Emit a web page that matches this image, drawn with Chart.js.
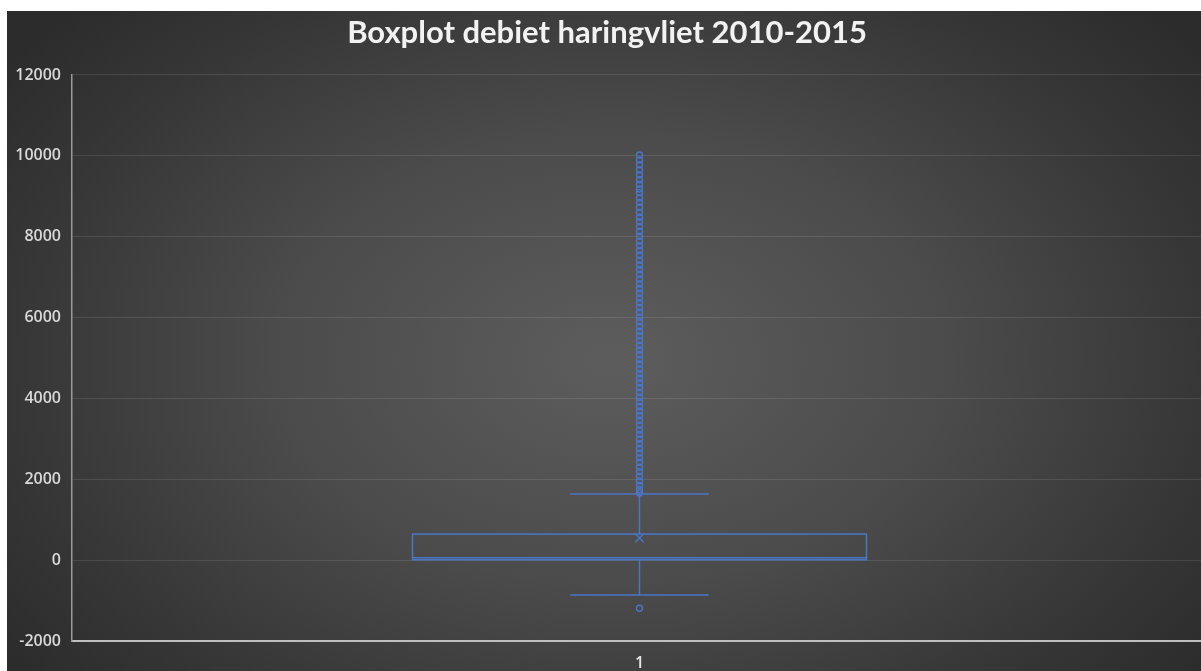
<!DOCTYPE html>
<html>
<head>
<meta charset="utf-8">
<script src="https://cdn.jsdelivr.net/npm/chart.js@4"></script>
<style>
  html, body { margin: 0; padding: 0; background: #fff; overflow: hidden; }
  #wrap {
    position: absolute; left: 7px; top: 11px; width: 1210px; height: 670px;
    background: radial-gradient(ellipse 62% 75% at 50% 52%, #5d5d5d 0%, #4b4b4b 45%, #363636 80%, #2c2c2c 100%);
  }
</style>
</head>
<body>
<div id="wrap"><canvas id="boxChart" width="1210" height="670"></canvas></div>
<script>
// Boxplot debiet haringvliet 2010-2015
const categories = ['1'];
const q1 = 10;
const median = 60;
const q3 = 645;
const mean = 547;
const whiskerLow = -863;
const whiskerHigh = 1635;
const outliers = [
    10020, 9900, 9780, 9650, 9530, 9410, 9300, 9180, 9090,
    8960, 8850, 8730, 8600, 8480, 8370, 8250, 8130, 8010, 7890, 7780, 7660, 7540, 7420, 7300,
    7190, 7070, 6950, 6830, 6720, 6600, 6480, 6370, 6250, 6130, 6010, 5900, 5780, 5660, 5550,
    5430, 5310, 5200, 5080, 4960, 4850, 4730, 4610, 4500, 4380, 4270, 4150, 4030, 3920, 3800,
    3690, 3570, 3460, 3340, 3220, 3110, 2990, 2880, 2760, 2650, 2530, 2420, 2300, 2190, 2070,
    1960, 1850, 1740, 1660,
    -1190
];
const yTicks = [-2000, 0, 2000, 4000, 6000, 8000, 10000, 12000];

const BLUE = '#4a76c6';

// box, median and whiskers drawn from the stats through the chart scales
const boxPlugin = {
    id: 'boxWhisker',
    beforeDatasetsDraw(chart) {
        const { ctx, scales: { x, y } } = chart;
        const cx = x.getPixelForValue(0);
        const catW = x.width;
        const halfBox = catW * 0.2;
        const halfCap = catW * 0.061;
        ctx.save();
        ctx.strokeStyle = BLUE;
        ctx.lineWidth = 1.5;
        // whiskers
        ctx.beginPath();
        ctx.moveTo(cx, y.getPixelForValue(q3));
        ctx.lineTo(cx, y.getPixelForValue(whiskerHigh));
        ctx.moveTo(cx - halfCap, y.getPixelForValue(whiskerHigh));
        ctx.lineTo(cx + halfCap, y.getPixelForValue(whiskerHigh));
        ctx.moveTo(cx, y.getPixelForValue(q1));
        ctx.lineTo(cx, y.getPixelForValue(whiskerLow));
        ctx.moveTo(cx - halfCap, y.getPixelForValue(whiskerLow));
        ctx.lineTo(cx + halfCap, y.getPixelForValue(whiskerLow));
        ctx.stroke();
        // box
        const top = y.getPixelForValue(q3);
        const bottom = y.getPixelForValue(q1);
        ctx.strokeRect(cx - halfBox, top, halfBox * 2, bottom - top);
        // median
        ctx.beginPath();
        ctx.moveTo(cx - halfBox, y.getPixelForValue(median));
        ctx.lineTo(cx + halfBox, y.getPixelForValue(median));
        ctx.stroke();
        ctx.restore();
    }
};

const ctx = document.getElementById('boxChart');
new Chart(ctx, {
    type: 'line',
    data: {
        labels: categories,
        datasets: [
            {
                label: 'Uitschieters',
                data: outliers.map(v => ({ x: categories[0], y: v })),
                showLine: false,
                pointStyle: 'circle',
                pointRadius: 3,
                pointBorderWidth: 1.4,
                pointBorderColor: BLUE,
                pointBackgroundColor: 'rgba(0,0,0,0)',
            },
            {
                label: 'Gemiddelde',
                data: [{ x: categories[0], y: mean }],
                showLine: false,
                pointStyle: 'crossRot',
                pointRadius: 6,
                pointBorderWidth: 1.5,
                pointBorderColor: BLUE,
            }
        ]
    },
    options: {
        responsive: false,
        animation: false,
        layout: { padding: { left: 0, right: 10, top: 0, bottom: 0 } },
        scales: {
            x: {
                offset: true,
                grid: { display: false, drawTicks: false },
                border: { color: '#bfbfbf', width: 2 },
                ticks: { color: '#e6e6e6', padding: 13, font: { family: 'Open Sans', size: 16, weight: '600' } },
                afterFit: s => { s.height = 40; }
            },
            y: {
                min: -2000,
                max: 12000,
                afterBuildTicks: s => { s.ticks = yTicks.map(v => ({ value: v })); },
                grid: { color: 'rgba(255,255,255,0.1)', lineWidth: 1, drawTicks: false },
                border: { color: '#9a9a9a', width: 1.5 },
                ticks: {
                    color: '#d9d9d9', padding: 11,
                    font: { family: 'Open Sans', size: 16, weight: '600' },
                    callback: v => String(v)
                },
                afterFit: s => { s.width = 65; }
            }
        },
        plugins: {
            legend: { display: false },
            tooltip: { enabled: false },
            title: {
                display: true,
                text: 'Boxplot debiet haringvliet 2010-2015',
                color: '#f2f2f2',
                font: { family: 'Lato', size: 31, weight: 'bold', lineHeight: 1.2 },
                padding: { top: 3.4, bottom: 23.4 }
            }
        }
    },
    plugins: [boxPlugin]
});
</script>
</body>
</html>
